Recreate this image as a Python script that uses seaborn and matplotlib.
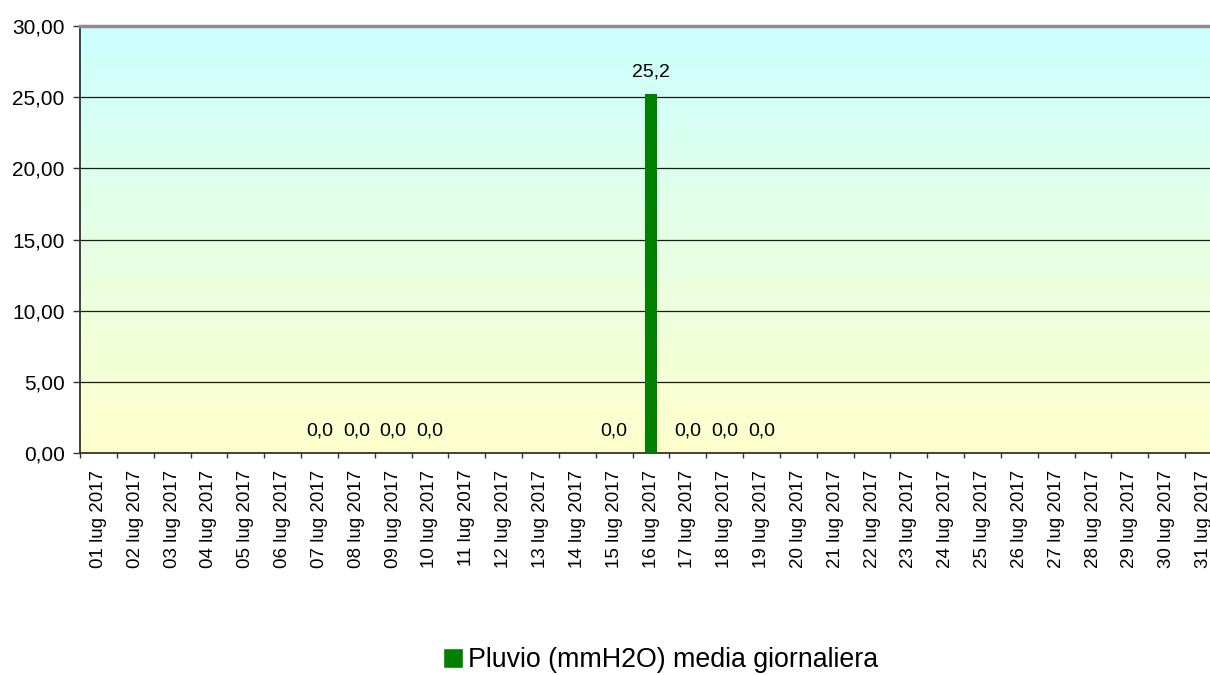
import seaborn as sns
import numpy as np
import pandas as pd
import matplotlib.pyplot as plt
from matplotlib.patches import Patch
from matplotlib.ticker import FuncFormatter, FixedLocator

# giorni di luglio 2017 e pioggia media giornaliera (NaN = nessun dato)
days = ["%02d lug 2017" % d for d in range(1, 32)]
rain = [np.nan] * 31
rain_days = [7, 8, 9, 10, 15, 16, 17, 18, 19]
rain_vals = [0.0, 0.0, 0.0, 0.0, 0.0, 25.2, 0.0, 0.0, 0.0]
for d, v in zip(rain_days, rain_vals):
    rain[d - 1] = v
series_name = "Pluvio (mmH2O) media giornaliera"
y_ticks = [0, 5, 10, 15, 20, 25, 30]

sns.set_style("white")
plt.rcParams['font.family'] = ['Liberation Sans', 'DejaVu Sans']
plt.rcParams['text.color'] = 'black'
plt.rcParams['xtick.color'] = 'black'
plt.rcParams['ytick.color'] = 'black'

df = pd.DataFrame({"giorno": days, "pioggia": rain})

fig = plt.figure(figsize=(12.1, 6.75), dpi=100)
ax = fig.add_axes([80 / 1210, 222 / 675, 1142 / 1210, 427 / 675])

# sfondo sfumato azzurro -> giallo
top = np.array([0xCC, 0xFF, 0xFF]) / 255
bot = np.array([0xFF, 0xFF, 0xCC]) / 255
t = np.linspace(0, 1, 256)[:, None]
grad = (top * (1 - t) + bot * t)[:, None, :]
ax.imshow(grad, extent=[-0.5, 30.5, 0, 30], aspect="auto", zorder=0)

sns.barplot(data=df, x="giorno", y="pioggia", order=days, color="#008000",
            saturation=1, width=0.35, ax=ax, zorder=3, errorbar=None,
            linewidth=0, edgecolor="none")

for i, v in enumerate(rain):
    if not np.isnan(v):
        ax.annotate(("%.1f" % v).replace(".", ","), (i, v), xytext=(0, 16),
                    textcoords="offset points", ha="center", va="center",
                    fontsize=14, color="black", zorder=4)

ax.set_xlim(-0.5, 30.5)
ax.set_ylim(0, 30)
ax.set_yticks(y_ticks)
ax.yaxis.set_major_formatter(FuncFormatter(lambda v, p: ("%.2f" % v).replace(".", ",")))
for y in y_ticks[1:-1]:
    ax.axhline(y, color="#1a1a1a", lw=0.9, zorder=1)

ax.set_xticks(range(31))
ax.set_xticklabels(days, rotation=90, fontsize=13.5)
ax.xaxis.set_minor_locator(FixedLocator(np.arange(-0.5, 31, 1)))
ax.tick_params(axis="x", which="major", bottom=True, length=0, pad=12)
ax.tick_params(axis="x", which="minor", bottom=True, length=3.8, width=1,
               color="#333333", direction="out")
ax.tick_params(axis="y", left=True, length=5, width=1, color="#333333",
               direction="out", labelsize=15, pad=6)
ax.set_xlabel("")
ax.set_ylabel("")

for s in ["left", "bottom"]:
    ax.spines[s].set_color("#333333")
    ax.spines[s].set_linewidth(1.3)
ax.spines["top"].set_color("#8c8c8c")
ax.spines["top"].set_linewidth(2.5)
ax.spines["right"].set_visible(False)

fig.legend(handles=[Patch(facecolor="#008000", label=series_name)],
           loc="center", bbox_to_anchor=(0.546, 0.022), frameon=False,
           fontsize=19.3, handlelength=0.75, handleheight=0.75, handletextpad=0.2)

fig.savefig("out.png", dpi=100)
